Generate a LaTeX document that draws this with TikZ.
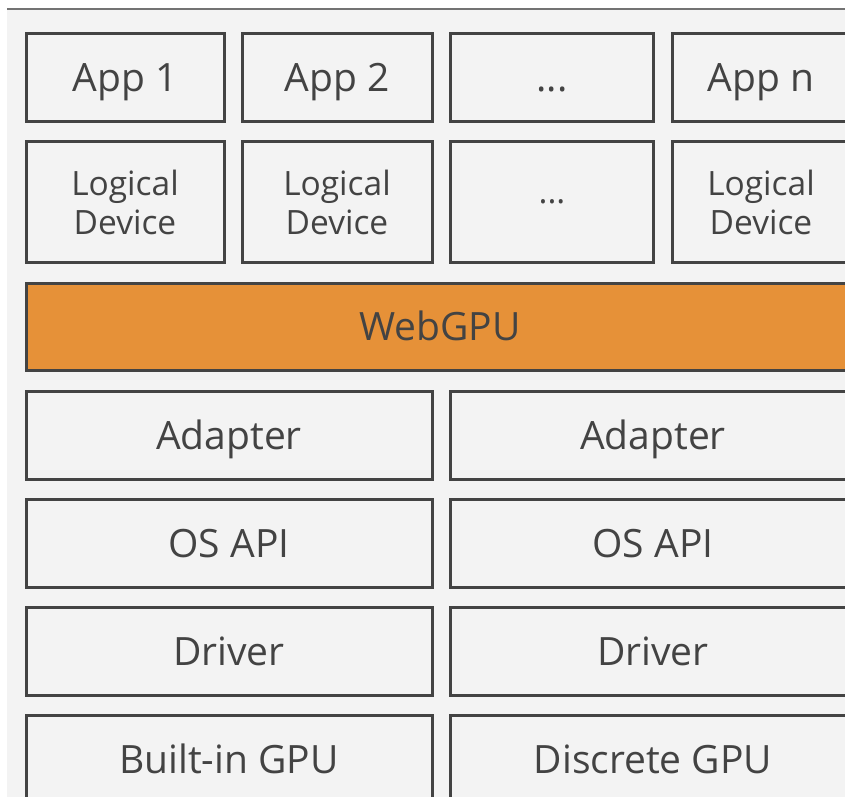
\documentclass[tikz,border=0pt]{standalone}
\usepackage{fontspec}
\setmainfont{Open Sans}
\definecolor{panel}{HTML}{F3F3F3}
\definecolor{edge}{HTML}{434343}
\definecolor{ink}{HTML}{434343}
\definecolor{webgpu}{HTML}{E69138}
\tikzset{
  boxbase/.style={draw=edge, line width=3pt, fill=panel, text=ink, align=center, inner sep=0pt},
  layer/.style={boxbase, font=\fontsize{39}{40}\selectfont, text height=28pt, text depth=0pt},
  twoline/.style={boxbase, font=\fontsize{33.5}{39}\selectfont},
}
\begin{document}
\begin{tikzpicture}[x=1pt,y=-1pt]
  \useasboundingbox (0,0) rectangle (845,796);
  \fill[white] (0,0) rectangle (845,796);
  % backdrop panel with its top rule
  \fill[panel] (7,9) rectangle (860,810);
  \draw[line width=1.2pt, draw=black!55] (7,9) -- (860,9);
  \begin{scope}
    \clip (0,0) rectangle (845,796);
    % applications
    \node[layer, minimum width=198pt, minimum height=88pt] (app1) at (125,77) {App 1};
    \node[layer, minimum width=190pt, minimum height=88pt] (app2) at (337,77) {App 2};
    \node[layer, minimum width=203pt, minimum height=88pt] (appdots) at (552,77) {...};
    \node[layer, minimum width=178pt, minimum height=88pt] (appn) at (761,77) {App n};
    % logical devices
    \node[twoline, minimum width=198pt, minimum height=121pt] (ld1) at (125,202) {Logical\\Device};
    \node[twoline, minimum width=190pt, minimum height=121pt] (ld2) at (337,202) {Logical\\Device};
    \node[twoline, minimum width=203pt, minimum height=121pt] (lddots) at (552,202) {...};
    \node[twoline, minimum width=178pt, minimum height=121pt] (ldn) at (761,202) {Logical\\Device};
    % WebGPU layer
    \node[layer, fill=webgpu, minimum width=828pt, minimum height=87pt] (webgpu) at (440,326.5) {WebGPU};
    % per-GPU stacks
    \node[layer, minimum width=406pt, minimum height=88pt] (adA) at (229,435) {Adapter};
    \node[layer, minimum width=406pt, minimum height=88pt] (adB) at (653,435) {Adapter};
    \node[layer, minimum width=406pt, minimum height=88pt] (osA) at (229,543) {OS API};
    \node[layer, minimum width=406pt, minimum height=88pt] (osB) at (653,543) {OS API};
    \node[layer, minimum width=406pt, minimum height=88pt] (drA) at (229,651) {Driver};
    \node[layer, minimum width=406pt, minimum height=88pt] (drB) at (653,651) {Driver};
    \node[layer, minimum width=406pt, minimum height=88pt] (gpuA) at (229,759) {Built-in GPU};
    \node[layer, minimum width=406pt, minimum height=88pt] (gpuB) at (653,759) {Discrete GPU};
  \end{scope}
\end{tikzpicture}
\end{document}
